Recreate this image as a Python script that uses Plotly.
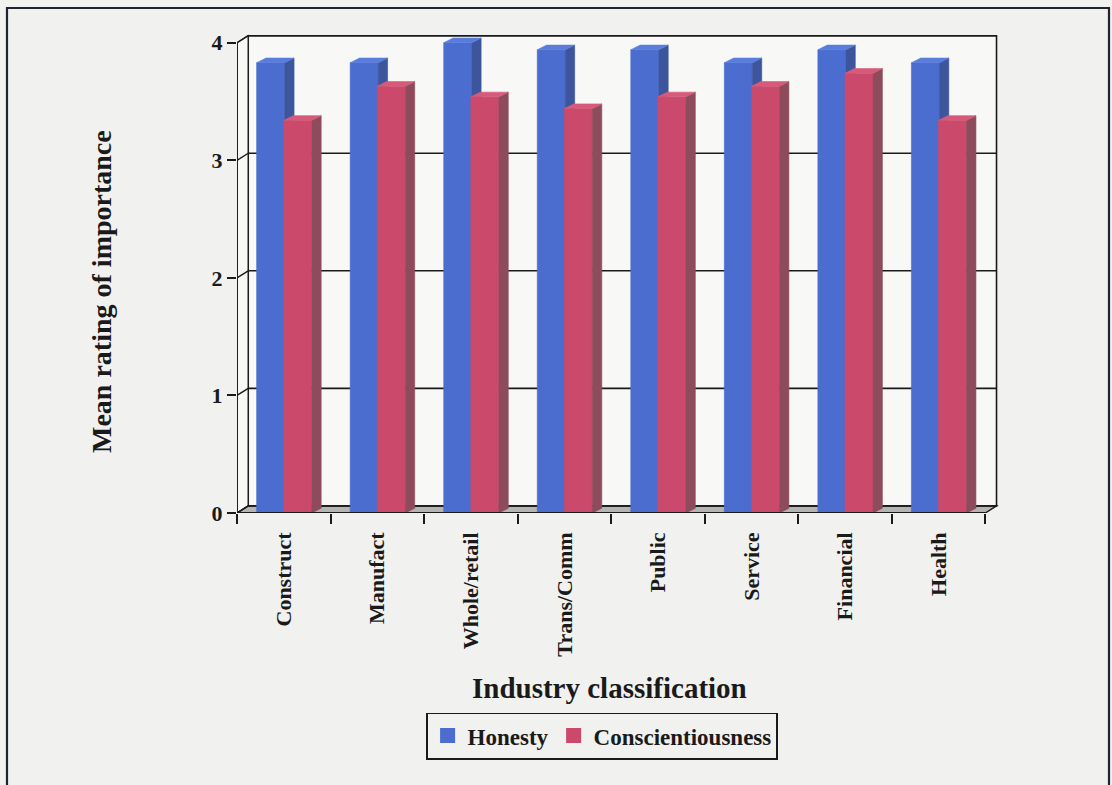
import plotly.graph_objects as go

# Mean importance ratings by industry
categories = ["Construct", "Manufact", "Whole/retail", "Trans/Comm",
              "Public", "Service", "Financial", "Health"]
honesty = [3.83, 3.83, 4.0, 3.94, 3.94, 3.83, 3.94, 3.83]
conscientiousness = [3.34, 3.63, 3.54, 3.44, 3.54, 3.63, 3.74, 3.34]
y_ticks = [0, 1, 2, 3, 4]

FONT = "Liberation Serif"
PAPER = "#f1f1ef"
WALL = "#f8f8f7"
INK = "#1a1a1a"

# pseudo-3D geometry (data units)
WALL_DX, WALL_DY = 0.12, 0.06
BAR_DX, BAR_DY = 0.10, 0.04
n = len(categories)
y_max = max(y_ticks)

series = [
    ("Honesty", honesty, 0.21, 0.51, "#4a6dcf", "#3d559c", "#5a7ddb"),
    ("Conscientiousness", conscientiousness, 0.50, 0.80, "#cb4a6c", "#8e4b5c", "#d65a7a"),
]


def polys(values, x0_off, x1_off, face):
    xs, ys = [], []
    for i, v in enumerate(values):
        x0, x1 = i + x0_off, i + x1_off
        if face == "front":
            px, py = [x0, x1, x1, x0, x0], [0, 0, v, v, 0]
        elif face == "side":
            px = [x1, x1 + BAR_DX, x1 + BAR_DX, x1, x1]
            py = [0, BAR_DY, v + BAR_DY, v, 0]
        else:
            px = [x0, x1, x1 + BAR_DX, x0 + BAR_DX, x0]
            py = [v, v, v + BAR_DY, v + BAR_DY, v]
        xs += px + [None]
        ys += py + [None]
    return xs, ys


fig = go.Figure()

for name, vals, a, b, c_front, c_side, c_top in series:
    for face, col in (("front", c_front), ("side", c_side), ("top", c_top)):
        xs, ys = polys(vals, a, b, face)
        fig.add_trace(go.Scatter(
            x=xs, y=ys, mode="lines", fill="toself", fillcolor=col,
            line=dict(width=0.6, color=col), showlegend=False,
            hoverinfo="skip"))

# legend entries
for name, vals, a, b, c_front, c_side, c_top in series:
    fig.add_trace(go.Scatter(
        x=[None], y=[None], mode="markers", name=name,
        marker=dict(symbol="square", size=15, color=c_front,
                    line=dict(width=0))))

shapes = []
# back wall
shapes.append(dict(type="rect", xref="x", yref="y", x0=WALL_DX, y0=WALL_DY,
                   x1=n + WALL_DX, y1=y_max + WALL_DY, fillcolor=WALL,
                   line=dict(color=INK, width=1.6), layer="below"))
# left wall
shapes.append(dict(type="path", xref="x", yref="y",
                   path=f"M 0 0 L 0 {y_max} L {WALL_DX} {y_max + WALL_DY} L {WALL_DX} {WALL_DY} Z",
                   fillcolor=WALL, line=dict(color=INK, width=1.4), layer="below"))
# floor
shapes.append(dict(type="path", xref="x", yref="y",
                   path=f"M 0 0 L {n} 0 L {n + WALL_DX} {WALL_DY} L {WALL_DX} {WALL_DY} Z",
                   fillcolor="#b4b4b4", line=dict(color=INK, width=1.4), layer="below"))
# gridlines on back wall and connectors across the left wall
for k in y_ticks:
    shapes.append(dict(type="line", xref="x", yref="y", x0=WALL_DX, y0=k + WALL_DY,
                       x1=n + WALL_DX, y1=k + WALL_DY,
                       line=dict(color=INK, width=1.6), layer="below"))
    shapes.append(dict(type="line", xref="x", yref="y", x0=0, y0=k,
                       x1=WALL_DX, y1=k + WALL_DY,
                       line=dict(color=INK, width=1.4), layer="below"))
# front axis lines
shapes.append(dict(type="line", xref="x", yref="y", x0=0, y0=0, x1=0, y1=y_max,
                   line=dict(color=INK, width=1.8)))
shapes.append(dict(type="line", xref="x", yref="y", x0=0, y0=0, x1=n, y1=0,
                   line=dict(color=INK, width=1.8)))

# outer frame
L, R, T, B = 237, 108, 31, 272
W, H = 1112, 785
pw, ph = W - L - R, H - T - B


def px_x(p):
    return (p - L) / pw


def px_y(p):
    return (H - B - p) / ph


shapes.append(dict(type="rect", xref="paper", yref="paper",
                   x0=px_x(7), x1=px_x(1109), y0=px_y(8), y1=px_y(800),
                   line=dict(color="#1f2433", width=2.2), fillcolor="rgba(0,0,0,0)"))

fig.update_layout(
    width=W, height=H,
    margin=dict(l=L, r=R, t=T, b=B),
    paper_bgcolor=PAPER, plot_bgcolor=PAPER,
    shapes=shapes,
    font=dict(family=FONT, color=INK),
    xaxis=dict(
        range=[0, n + 0.2], showgrid=False, zeroline=False, showline=False,
        tickmode="array", tickvals=[i + 0.5 for i in range(n)], ticktext=categories,
        tickangle=-90, ticks="", ticklen=0, ticklabelstandoff=14,
        tickfont=dict(family=FONT, size=22, weight="bold", color=INK),
        minor=dict(tickmode="array", tickvals=list(range(n + 1)), ticks="outside",
                   ticklen=10, tickwidth=1.8, tickcolor=INK),
    ),
    yaxis=dict(
        range=[0, y_max + 0.1], showgrid=False, zeroline=False, showline=False,
        tickmode="array", tickvals=y_ticks, ticks="outside", ticklen=9,
        tickwidth=1.8, tickcolor=INK,
        tickfont=dict(family=FONT, size=22, weight="bold", color=INK),
    ),
    legend=dict(
        orientation="h", x=px_x(602), xanchor="center", y=px_y(736), yanchor="middle",
        bgcolor=PAPER, bordercolor=INK, borderwidth=1.6,
        font=dict(family=FONT, size=23, weight="bold", color=INK),
        itemwidth=30, tracegroupgap=0,
    ),
    annotations=[
        dict(text="Industry classification", xref="paper", yref="paper",
             x=px_x(609), y=px_y(688), xanchor="center", yanchor="middle",
             showarrow=False,
             font=dict(family=FONT, size=29, weight="bold", color=INK)),
        dict(text="Mean rating of importance", xref="paper", yref="paper",
             x=px_x(101), y=px_y(292), xanchor="center", yanchor="middle",
             showarrow=False, textangle=-90,
             font=dict(family=FONT, size=28, weight="bold", color=INK)),
    ],
)

fig.write_html("out.html")
